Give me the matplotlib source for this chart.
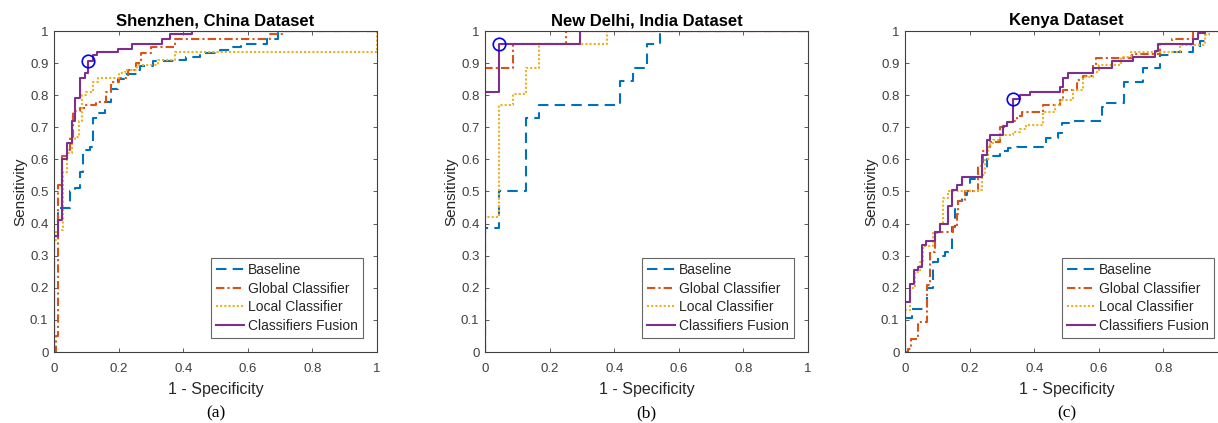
import matplotlib
matplotlib.use("Agg")
import matplotlib.pyplot as plt

# ---------------- data (ROC step points: at FPR x, TPR reaches y) ----------------
titles = ["Shenzhen, China Dataset", "New Delhi, India Dataset", "Kenya Dataset"]
sublabels = ["(a)", "(b)", "(c)"]
series_names = ["Baseline", "Global Classifier", "Local Classifier", "Classifiers Fusion"]

# Panel (a) Shenzhen
a_base_fpr = [0, 0, 0.013, 0.049, 0.065, 0.08, 0.091, 0.111, 0.122, 0.137, 0.158, 0.178, 0.199, 0.22,
              0.256, 0.266, 0.307, 0.374, 0.41, 0.452, 0.513, 0.544, 0.58, 0.658, 0.694, 1]
a_base_tpr = [0, 0.40, 0.45, 0.50, 0.51, 0.56, 0.63, 0.64, 0.73, 0.745, 0.78, 0.82, 0.85, 0.865,
              0.88, 0.89, 0.905, 0.91, 0.92, 0.93, 0.94, 0.95, 0.96, 0.975, 1.0, 1.0]
a_glob_fpr = [0, 0.006, 0.013, 0.024, 0.039, 0.05, 0.06, 0.08, 0.10, 0.13, 0.16, 0.175, 0.2, 0.23,
              0.255, 0.27, 0.30, 0.375, 0.67, 0.705, 1]
a_glob_tpr = [0, 0.05, 0.52, 0.61, 0.63, 0.67, 0.75, 0.76, 0.77, 0.78, 0.81, 0.84, 0.855, 0.88,
              0.90, 0.93, 0.95, 0.975, 0.99, 1.0, 1.0]
a_loc_fpr = [0, 0, 0.006, 0.027, 0.039, 0.055, 0.065, 0.078, 0.086, 0.10, 0.12, 0.137, 0.2, 0.22,
             0.256, 0.323, 0.374, 0.985, 1]
a_loc_tpr = [0, 0.35, 0.38, 0.56, 0.62, 0.66, 0.67, 0.72, 0.80, 0.81, 0.84, 0.855, 0.87, 0.88,
             0.895, 0.91, 0.935, 0.935, 1.0]
a_fus_fpr = [0, 0, 0.013, 0.024, 0.039, 0.055, 0.065, 0.08, 0.096, 0.106, 0.122, 0.134, 0.199, 0.24,
             0.333, 0.359, 0.426, 1]
a_fus_tpr = [0, 0.36, 0.41, 0.60, 0.65, 0.72, 0.79, 0.855, 0.87, 0.907, 0.925, 0.935, 0.945, 0.96,
             0.975, 0.99, 1.0, 1.0]
a_opt = (0.106, 0.907)

# Panel (b) New Delhi
b_base_fpr = [0, 0, 0.044, 0.127, 0.168, 0.418, 0.459, 0.5, 0.542, 1]
b_base_tpr = [0, 0.385, 0.50, 0.73, 0.77, 0.845, 0.885, 0.96, 1.0, 1.0]
b_glob_fpr = [0, 0, 0.086, 0.25, 1]
b_glob_tpr = [0, 0.885, 0.96, 1.0, 1.0]
b_loc_fpr = [0, 0, 0.044, 0.086, 0.127, 0.168, 0.377, 1]
b_loc_tpr = [0, 0.42, 0.77, 0.805, 0.885, 0.96, 1.0, 1.0]
b_fus_fpr = [0, 0, 0.044, 0.294, 1]
b_fus_tpr = [0, 0.81, 0.96, 1.0, 1.0]
b_opt = (0.044, 0.961)

# Panel (c) Kenya
c_base_fpr = [0, 0, 0.021, 0.067, 0.088, 0.103, 0.124, 0.144, 0.155, 0.165, 0.175, 0.191, 0.2, 0.227,
              0.237, 0.253, 0.263, 0.294, 0.32, 0.346, 0.438, 0.475, 0.485, 0.51, 0.609, 0.625, 0.678,
              0.738, 0.789, 0.825, 0.893, 0.913, 0.93, 1]
c_base_tpr = [0, 0.105, 0.135, 0.20, 0.28, 0.30, 0.31, 0.39, 0.46, 0.47, 0.49, 0.50, 0.54, 0.545,
              0.57, 0.60, 0.61, 0.625, 0.635, 0.64, 0.666, 0.681, 0.712, 0.72, 0.764, 0.775, 0.842,
              0.884, 0.925, 0.935, 0.951, 0.97, 1.0, 1.0]
c_glob_fpr = [0, 0.01, 0.02, 0.04, 0.067, 0.078, 0.093, 0.15, 0.16, 0.165, 0.186, 0.227, 0.242, 0.253,
              0.263, 0.294, 0.315, 0.335, 0.346, 0.361, 0.428, 0.48, 0.49, 0.531, 0.55, 0.583, 0.59,
              0.702, 0.789, 0.827, 0.893, 1]
c_glob_tpr = [0, 0.01, 0.04, 0.095, 0.21, 0.31, 0.375, 0.39, 0.43, 0.47, 0.50, 0.58, 0.625, 0.64,
              0.655, 0.70, 0.715, 0.72, 0.735, 0.749, 0.77, 0.785, 0.816, 0.847, 0.86, 0.894, 0.915,
              0.927, 0.96, 0.975, 1.0, 1.0]
c_loc_fpr = [0, 0, 0.015, 0.03, 0.045, 0.057, 0.088, 0.108, 0.118, 0.134, 0.227, 0.237, 0.247, 0.258,
             0.263, 0.273, 0.294, 0.335, 0.356, 0.376, 0.428, 0.464, 0.48, 0.52, 0.55, 0.583, 0.6,
             0.67, 0.7, 0.851, 0.93, 0.94, 1]
c_loc_tpr = [0, 0.13, 0.20, 0.25, 0.28, 0.33, 0.37, 0.40, 0.48, 0.50, 0.505, 0.55, 0.60, 0.64,
             0.65, 0.66, 0.675, 0.685, 0.695, 0.707, 0.749, 0.77, 0.785, 0.816, 0.858, 0.873, 0.894,
             0.92, 0.935, 0.956, 0.988, 1.0, 1.0]
c_fus_fpr = [0, 0, 0.015, 0.028, 0.041, 0.052, 0.065, 0.093, 0.108, 0.134, 0.147, 0.16, 0.175, 0.237,
             0.253, 0.263, 0.304, 0.315, 0.333, 0.356, 0.387, 0.48, 0.49, 0.505, 0.583, 0.64, 0.707,
             0.774, 0.784, 0.893, 0.908, 0.926, 1]
c_fus_tpr = [0, 0.156, 0.213, 0.255, 0.265, 0.332, 0.345, 0.375, 0.40, 0.455, 0.505, 0.52, 0.545, 0.615,
             0.66, 0.675, 0.705, 0.715, 0.787, 0.80, 0.811, 0.826, 0.853, 0.868, 0.884, 0.905, 0.92,
             0.938, 0.958, 0.975, 0.993, 1.0, 1.0]
c_opt = (0.333, 0.787)

xticks = [0, 0.2, 0.4, 0.6, 0.8, 1]
xticklabels = ["0", "0.2", "0.4", "0.6", "0.8", "1"]
yticks = [0, 0.1, 0.2, 0.3, 0.4, 0.5, 0.6, 0.7, 0.8, 0.9, 1]
yticklabels = ["0", "0.1", "0.2", "0.3", "0.4", "0.5", "0.6", "0.7", "0.8", "0.9", "1"]

panels = [
    [(a_base_fpr, a_base_tpr), (a_glob_fpr, a_glob_tpr), (a_loc_fpr, a_loc_tpr), (a_fus_fpr, a_fus_tpr), a_opt],
    [(b_base_fpr, b_base_tpr), (b_glob_fpr, b_glob_tpr), (b_loc_fpr, b_loc_tpr), (b_fus_fpr, b_fus_tpr), b_opt],
    [(c_base_fpr, c_base_tpr), (c_glob_fpr, c_glob_tpr), (c_loc_fpr, c_loc_tpr), (c_fus_fpr, c_fus_tpr), c_opt],
]

# ---------------- style ----------------
colors = ["#0072BD", "#D95319", "#EDB120", "#7E2F8E"]
styles = [dict(linestyle=(0, (5.0, 3.0))),
          dict(linestyle=(0, (4.0, 1.5, 1.0, 1.5))),
          dict(linestyle=(0, (1.0, 1.0))),
          dict(linestyle="-")]
axcol = "#404040"
plt.rcParams["font.family"] = ["Liberation Sans", "DejaVu Sans"]

W, H = 1218, 423
fig = plt.figure(figsize=(W / 100, H / 100), dpi=100)
lefts = [54, 485, 905]
ax_w, ax_top, ax_bot = 323, 31, 352

for i, (left, pdata) in enumerate(zip(lefts, panels)):
    ax = fig.add_axes([left / W, (H - ax_bot) / H, ax_w / W, (ax_bot - ax_top) / H])
    for k in range(4):
        fpr, tpr = pdata[k]
        ax.plot(fpr, tpr, drawstyle="steps-post", color=colors[k], lw=1.5,
                label=series_names[k], **styles[k])
    ox, oy = pdata[4]
    ax.plot([ox], [oy], marker="o", ms=9, mfc="none", mec="#0000FF", mew=1.2, linestyle="none")
    ax.set_xlim(0, 1)
    ax.set_ylim(0, 1)
    ax.set_xticks(xticks)
    # the last panel is cut at the right edge of the picture, so its "1" is not shown
    ax.set_xticklabels(xticklabels if i < 2 else xticklabels[:-1] + [""])
    ax.set_yticks(yticks)
    ax.set_yticklabels(yticklabels)
    ax.tick_params(direction="in", top=True, right=True, length=3, width=0.6, colors=axcol,
                   labelsize=9.5)
    ax.tick_params(axis="x", pad=8)
    ax.tick_params(axis="y", pad=4)
    for sp in ax.spines.values():
        sp.set_color(axcol)
        sp.set_linewidth(0.8)
    ax.set_title(titles[i], fontsize=12, fontweight="bold", color="black", pad=4)
    ax.set_xlabel("1 - Specificity", fontsize=11.5, color="#262626", labelpad=5)
    ax.set_ylabel("Sensitivity", fontsize=11, color="#262626", labelpad=2)
    leg = ax.legend(loc="lower right", fontsize=10, frameon=True, fancybox=False, handlelength=2.0,
                    handletextpad=0.25, borderpad=0.4, labelspacing=0.32, borderaxespad=1.0)
    leg.get_frame().set_edgecolor(axcol)
    leg.get_frame().set_linewidth(0.8)
    for t in leg.get_texts():
        t.set_color("#262626")
    fig.text((left + ax_w / 2) / W, 1 - 413 / H, sublabels[i], ha="center", va="center",
             fontsize=12.5, family="Liberation Serif")

fig.savefig("out.png", dpi=100)
